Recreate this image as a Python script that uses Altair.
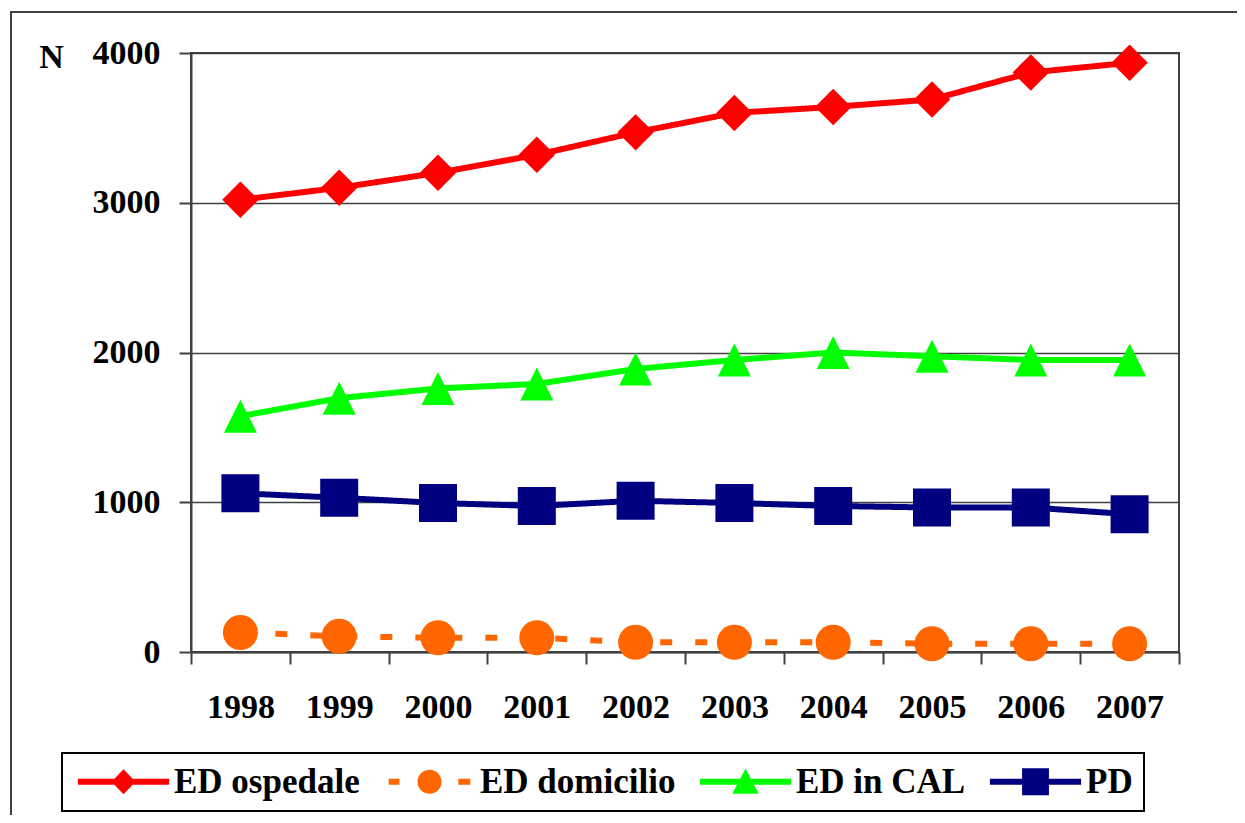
import altair as alt
import pandas as pd

years = ["1998", "1999", "2000", "2001", "2002", "2003", "2004", "2005", "2006", "2007"]
series_names = ["ED ospedale", "ED domicilio", "ED in CAL", "PD"]
ed_ospedale = [3020, 3100, 3200, 3320, 3470, 3600, 3640, 3690, 3870, 3935]
ed_domicilio = [130, 105, 95, 95, 65, 65, 65, 55, 55, 55]
ed_cal = [1575, 1695, 1760, 1790, 1890, 1950, 2000, 1975, 1950, 1950]
pd_vals = [1060, 1030, 995, 975, 1010, 995, 975, 965, 965, 920]
y_ticks = [0, 1000, 2000, 3000, 4000]

rows = []
for name, vals in zip(series_names, [ed_ospedale, ed_domicilio, ed_cal, pd_vals]):
    for yr, v in zip(years, vals):
        rows.append({"anno": yr, "serie": name, "N": v})
df = pd.DataFrame(rows)

colors = ["#FF0000", "#FF6600", "#00FF00", "#000080"]
FONT = "Liberation Serif"
AX = "#404040"

# marker shapes (unit box -1..1)
DIAMOND = "M0,-1L1,0L0,1L-1,0Z"
TRIANGLE = "M0,-1L1,1L-1,1Z"
markers = [
    ("ED ospedale", DIAMOND, 1330),
    ("ED domicilio", "circle", 1225),
    ("ED in CAL", TRIANGLE, 1089),
    ("PD", "square", 1444),
]

# legend symbols: line + marker
LINE = "M-3.8,-0.25L3.8,-0.25L3.8,0.25L-3.8,0.25Z"
legend_paths = [
    LINE + "M0,-1.05L1,0L0,1.05L-1,0Z",
    "M-3.4,-0.25L-2.5,-0.25L-2.5,0.25L-3.4,0.25Z"
    "M2.4,-0.25L3.4,-0.25L3.4,0.25L2.4,0.25Z"
    "M1,0A1,1,0,1,1,-1,0A1,1,0,1,1,1,0Z",
    LINE + "M0,-1.1L1.1,1L-1.1,1Z",
    LINE + "M-1.12,-1.12L1.12,-1.12L1.12,1.12L-1.12,1.12Z",
]

color_scale = alt.Scale(domain=series_names, range=colors)

x_enc = alt.X(
    "anno:O",
    scale=alt.Scale(type="band", domain=years, paddingInner=0, paddingOuter=0),
    bandPosition=0.5,
    axis=alt.Axis(
        title=None, tickBand="extent", grid=False, tickSize=12, labelPadding=26,
        labelAngle=0,
    ),
)
y_enc = alt.Y(
    "N:Q",
    scale=alt.Scale(domain=[0, 4000]),
    axis=alt.Axis(
        values=y_ticks, format="d", title="N", titleAngle=0, titleX=-140, titleY=4,
        titleAlign="center", titleBaseline="middle", grid=True, tickSize=12,
        labelPadding=19,
    ),
)

base = alt.Chart(df)

legend_props = dict(
    orient="none", legendX=-129, legendY=700, direction="horizontal", columns=4,
    title=None, labelFont=FONT, labelFontSize=35, labelFontWeight="bold",
    labelColor="black", symbolSize=576, symbolOffset=33, labelOffset=33,
    columnPadding=19, padding=11, strokeColor="black", fillColor="white",
    symbolStrokeWidth=0, symbolOpacity=1, labelLimit=500,
)

lines = base.mark_line(strokeWidth=6).encode(
    x=x_enc, y=y_enc,
    color=alt.Color("serie:N", scale=color_scale),
    strokeDash=alt.StrokeDash(
        "serie:N",
        scale=alt.Scale(domain=series_names, range=[[1, 0], [12, 23], [1, 0], [1, 0]]),
        legend=None,
    ),
)

point_layers = []
for name, shp, sz in markers:
    point_layers.append(
        base.transform_filter(alt.datum.serie == name)
        .mark_point(shape=shp, filled=True, size=sz, opacity=1)
        .encode(x=x_enc, y=y_enc, color=alt.Color("serie:N", scale=color_scale))
    )

legend_layer = base.mark_point(filled=True, opacity=0).encode(
    x=x_enc, y=y_enc,
    color=alt.Color("serie:N", scale=color_scale, legend=alt.Legend(**legend_props)),
    shape=alt.Shape(
        "serie:N",
        scale=alt.Scale(domain=series_names, range=legend_paths),
        legend=alt.Legend(**legend_props),
    ),
)

frame = alt.Chart(pd.DataFrame({"f": [0]})).mark_rect(
    fillOpacity=0, stroke=AX, strokeWidth=2
).encode(
    x=alt.value(-180), x2=alt.value(1150), y=alt.value(-41), y2=alt.value(850)
)

chart = (
    alt.layer(frame, lines, *point_layers, legend_layer)
    .properties(
        width=988, height=599,
        autosize=alt.AutoSizeParams(type="none"),
        padding={"left": 183, "top": 45, "right": 58, "bottom": 163},
    )
    .configure_view(stroke=AX, strokeWidth=2)
    .configure_axis(
        domainColor=AX, domainWidth=2, tickColor=AX, tickWidth=2,
        gridColor=AX, gridWidth=1.5,
        labelFont=FONT, labelFontSize=34, labelFontWeight="bold", labelColor="black",
        titleFont=FONT, titleFontSize=34, titleFontWeight="bold", titleColor="black",
    )
    .configure_legend(strokeWidth=2)
)

chart.save("out.html", embed_options={"renderer": "svg", "actions": False})
